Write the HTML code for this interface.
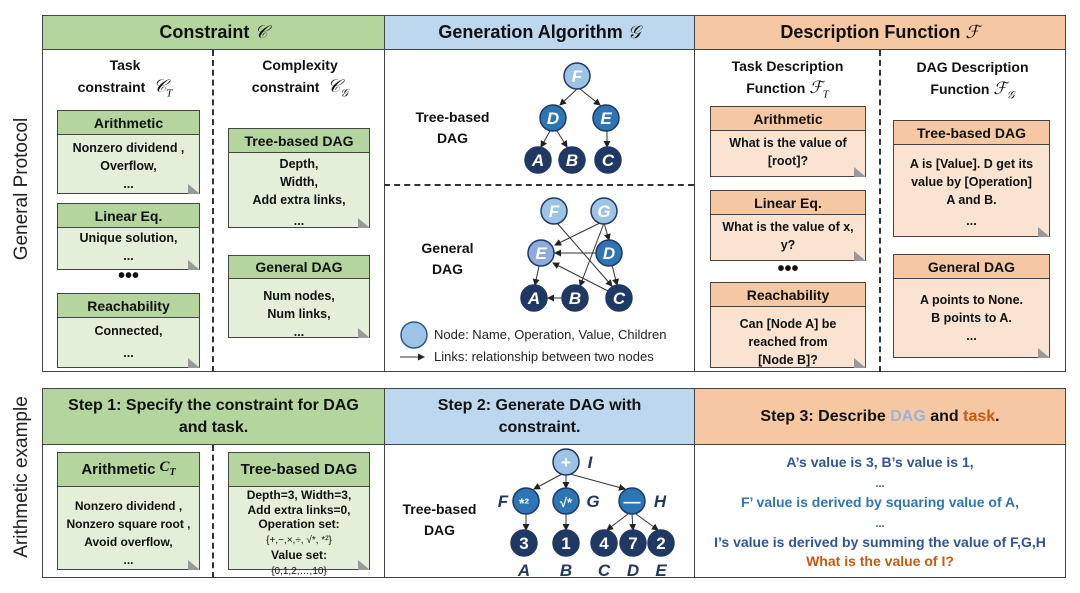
<!DOCTYPE html>
<html><head><meta charset="utf-8"><style>
body{margin:0;width:1080px;height:593px;background:#fff;position:relative;overflow:hidden;font-family:"Liberation Sans",sans-serif;}
.a{position:absolute;box-sizing:border-box;}
.hd{font-weight:bold;text-align:center;color:#111;border:1px solid #444;}
.g{background:#b4d59d}.b{background:#bdd7ee}.o{background:#f6c7a3}
.note{position:absolute;box-sizing:border-box;border:1px solid #444;font-weight:bold;font-size:12.5px;text-align:center;color:#111;line-height:18px;}
.note .h{border-bottom:1px solid #444;font-size:14px;display:flex;align-items:center;justify-content:center;}
.note .c{padding-top:4px}
.gn{background:#e3efd9}.gn .h{background:#b4d59d}
.on{background:#fbe3d2}.on .h{background:#f6c7a3}
.fold{position:absolute;right:-1px;bottom:-1px;width:0;height:0;border-left:12px solid #999;border-top:10px solid transparent;}
.lab{position:absolute;font-weight:bold;font-size:14px;text-align:center;color:#111;line-height:21px;}
.vd{position:absolute;border-left:2px dashed #333;width:0;}
.rot{position:absolute;transform:rotate(-90deg);font-size:19px;color:#222;white-space:nowrap;transform-origin:center;}
.t{position:absolute;font-weight:bold;font-size:14px;text-align:center;left:694px;width:372px;}
</style></head><body>
<div class="rot" style="left:-58px;top:178px;width:160px;text-align:center">General Protocol</div>
<div class="rot" style="left:-68px;top:466px;width:180px;text-align:center">Arithmetic example</div>

<!-- top panel -->
<div class="a" style="left:42px;top:15px;width:1024px;height:357px;border:1px solid #444"></div>
<div class="a hd g" style="left:42px;top:15px;width:343px;height:35px;font-size:18px;line-height:33px">Constraint <i style="font-family:'Liberation Serif',serif;font-weight:normal">𝒞</i></div>
<div class="a hd b" style="left:384px;top:15px;width:311px;height:35px;font-size:18px;line-height:33px">Generation Algorithm <i style="font-family:'Liberation Serif',serif;font-weight:normal">𝒢</i></div>
<div class="a hd o" style="left:694px;top:15px;width:372px;height:35px;font-size:18px;line-height:33px">Description Function <i style="font-family:'Liberation Serif',serif;font-weight:normal">ℱ</i></div>
<div class="a" style="left:384px;top:15px;width:0;height:357px;border-left:1px solid #444"></div>
<div class="a" style="left:694px;top:15px;width:0;height:357px;border-left:1px solid #444"></div>
<div class="vd" style="left:212px;top:50px;height:322px"></div>
<div class="vd" style="left:879px;top:50px;height:322px"></div>

<div class="lab" style="left:60px;top:55px;width:130px">Task<br>constraint &nbsp;<span style="font-family:'Liberation Serif',serif;font-style:italic;font-weight:normal;font-size:18px">𝒞<sub style="font-size:11px">T</sub></span></div>
<div class="lab" style="left:225px;top:55px;width:150px">Complexity<br>constraint &nbsp;<span style="font-family:'Liberation Serif',serif;font-style:italic;font-weight:normal;font-size:18px">𝒞<sub style="font-size:11px">𝒢</sub></span></div>

<div class="note gn" style="left:57px;top:110px;width:143px;height:84px"><div class="h" style="height:23px">Arithmetic</div><div class="c">Nonzero dividend ,<br>Overflow,<br>...</div><div class="fold"></div></div>
<div class="note gn" style="left:57px;top:203px;width:143px;height:67px"><div class="h" style="height:23px">Linear Eq.</div><div class="c" style="padding-top:1px">Unique solution,<br>...</div><div class="fold"></div></div>
<div class="lab" style="left:57px;top:266px;width:143px;font-size:20px">•••</div>
<div class="note gn" style="left:57px;top:293px;width:143px;height:75px"><div class="h" style="height:23px">Reachability</div><div class="c">Connected,<br><span style="line-height:26px">...</span></div><div class="fold"></div></div>
<div class="note gn" style="left:228px;top:128px;width:142px;height:100px"><div class="h" style="height:23px">Tree-based DAG</div><div class="c" style="padding-top:2px">Depth,<br>Width,<br>Add extra links,<br><span style="line-height:24px">...</span></div><div class="fold"></div></div>
<div class="note gn" style="left:228px;top:255px;width:142px;height:83px"><div class="h" style="height:22px">General DAG</div><div class="c" style="padding-top:8px">Num nodes,<br>Num links,<br>...</div><div class="fold"></div></div>

<div class="lab" style="left:700px;top:56px;width:175px">Task Description<br>Function <span style="font-family:'Liberation Serif',serif;font-style:italic;font-weight:normal;font-size:17px">ℱ<sub style="font-size:11px">T</sub></span></div>
<div class="lab" style="left:885px;top:57px;width:175px">DAG Description<br>Function <span style="font-family:'Liberation Serif',serif;font-style:italic;font-weight:normal;font-size:17px">ℱ<sub style="font-size:11px">𝒢</sub></span></div>

<div class="note on" style="left:710px;top:106px;width:156px;height:71px"><div class="h" style="height:23px">Arithmetic</div><div class="c" style="padding-top:3px">What is the value of<br>[root]?</div><div class="fold"></div></div>
<div class="note on" style="left:710px;top:190px;width:156px;height:71px"><div class="h" style="height:23px">Linear Eq.</div><div class="c" style="padding-top:3px">What is the value of x,<br>y?</div><div class="fold"></div></div>
<div class="lab" style="left:710px;top:259px;width:156px;font-size:20px">•••</div>
<div class="note on" style="left:710px;top:282px;width:156px;height:86px"><div class="h" style="height:23px">Reachability</div><div class="c" style="padding-top:8px">Can [Node A] be<br>reached from<br>[Node B]?</div><div class="fold"></div></div>
<div class="note on" style="left:893px;top:120px;width:157px;height:117px"><div class="h" style="height:23px">Tree-based DAG</div><div class="c" style="padding-top:10px">A is [Value]. D get its<br>value by [Operation]<br>A and B.<br><span style="line-height:24px">...</span></div><div class="fold"></div></div>
<div class="note on" style="left:893px;top:254px;width:157px;height:104px"><div class="h" style="height:23px">General DAG</div><div class="c" style="padding-top:12px">A points to None.<br>B points to A.<br>...</div><div class="fold"></div></div>

<div class="lab" style="left:400px;top:107px;width:105px">Tree-based<br>DAG</div>
<div class="lab" style="left:400px;top:238px;width:95px">General<br>DAG</div>
<div class="a" style="left:384px;top:184px;width:310px;border-top:2px dashed #333"></div>
<div class="a" style="left:434px;top:327px;font-size:13px;color:#222">Node: Name, Operation, Value, Children</div>
<div class="a" style="left:434px;top:349px;font-size:13px;color:#222">Links: relationship between two nodes</div>

<svg class="a" style="left:0;top:0" width="1080" height="593">
<defs><marker id="ar" markerWidth="7" markerHeight="7" refX="6" refY="3.5" orient="auto" markerUnits="userSpaceOnUse"><path d="M0,0L7,3.5L0,7z" fill="#222"/></marker></defs>
<g stroke="#333" stroke-width="1" fill="none" marker-end="url(#ar)">
<line x1="577" y1="89" x2="560" y2="105"/><line x1="580" y1="89" x2="600" y2="105"/>
<line x1="550" y1="131" x2="541" y2="147"/><line x1="557" y1="131" x2="567" y2="147"/><line x1="607" y1="131" x2="607" y2="147"/>
<line x1="604" y1="221" x2="555" y2="245"/><line x1="604" y1="223" x2="609" y2="240"/><line x1="604" y1="223" x2="580" y2="286"/><line x1="557" y1="223" x2="612" y2="286"/>
<line x1="596" y1="253" x2="555" y2="253"/><line x1="612" y1="265" x2="617" y2="285"/><line x1="610" y1="292" x2="553" y2="263"/>
<line x1="539" y1="266" x2="535" y2="285"/><line x1="562" y1="298" x2="548" y2="298"/>
<line x1="400" y1="357" x2="424" y2="357"/>
<line x1="562" y1="474" x2="534" y2="489"/><line x1="566" y1="475" x2="566" y2="488"/><line x1="570" y1="474" x2="625" y2="489"/>
<line x1="526" y1="514" x2="526" y2="530"/><line x1="566" y1="514" x2="566" y2="530"/>
<line x1="628" y1="514" x2="607" y2="530"/><line x1="632" y1="514" x2="633" y2="530"/><line x1="636" y1="514" x2="658" y2="530"/>
</g>
<g stroke="#1f3864" stroke-width="1.5" font-family="Liberation Sans" font-weight="bold" font-style="italic" font-size="17" text-anchor="middle">
<circle cx="577" cy="76" r="13" fill="#9dc3e6"/><text x="577" y="82" fill="#fff" stroke="none">F</text>
<circle cx="553" cy="118" r="13" fill="#2e75b6"/><text x="553" y="124" fill="#fff" stroke="none">D</text>
<circle cx="606" cy="118" r="13" fill="#2e75b6"/><text x="606" y="124" fill="#fff" stroke="none">E</text>
<circle cx="538" cy="160" r="13" fill="#1f3864"/><text x="538" y="166" fill="#fff" stroke="none">A</text>
<circle cx="572" cy="160" r="13" fill="#1f3864"/><text x="572" y="166" fill="#fff" stroke="none">B</text>
<circle cx="608" cy="160" r="13" fill="#1f3864"/><text x="608" y="166" fill="#fff" stroke="none">C</text>
<circle cx="554" cy="211" r="13" fill="#9dc3e6"/><text x="554" y="217" fill="#fff" stroke="none">F</text>
<circle cx="604" cy="211" r="13" fill="#9dc3e6"/><text x="604" y="217" fill="#fff" stroke="none">G</text>
<circle cx="541" cy="253" r="13" fill="#8faadc"/><text x="541" y="259" fill="#fff" stroke="none">E</text>
<circle cx="609" cy="253" r="13" fill="#2e75b6"/><text x="609" y="259" fill="#fff" stroke="none">D</text>
<circle cx="534" cy="298" r="13" fill="#1f3864"/><text x="534" y="304" fill="#fff" stroke="none">A</text>
<circle cx="575" cy="298" r="13" fill="#1f3864"/><text x="575" y="304" fill="#fff" stroke="none">B</text>
<circle cx="619" cy="298" r="13" fill="#1f3864"/><text x="619" y="304" fill="#fff" stroke="none">C</text>
<circle cx="414" cy="335" r="13" fill="#9dc3e6" stroke="#2e5a8a"/>
<circle cx="566" cy="462" r="13" fill="#9dc3e6"/><text x="566" y="468" fill="#fff" stroke="none" font-style="normal">+</text>
<circle cx="526" cy="501" r="13" fill="#2e75b6"/><text x="524" y="508" fill="#fff" stroke="none" font-style="normal" font-size="14">*²</text>
<circle cx="566" cy="501" r="13" fill="#2e75b6"/><text x="566" y="507" fill="#fff" stroke="none" font-style="normal" font-size="13">√*</text>
<circle cx="632" cy="501" r="13" fill="#2e75b6"/><text x="632" y="507" fill="#fff" stroke="none" font-style="normal">—</text>
<circle cx="524" cy="543" r="13" fill="#1f3864"/><text x="524" y="549" fill="#fff" stroke="none" font-style="normal">3</text>
<circle cx="566" cy="543" r="13" fill="#1f3864"/><text x="566" y="549" fill="#fff" stroke="none" font-style="normal">1</text>
<circle cx="604" cy="543" r="13" fill="#1f3864"/><text x="604" y="549" fill="#fff" stroke="none" font-style="normal">4</text>
<circle cx="633" cy="543" r="13" fill="#1f3864"/><text x="633" y="549" fill="#fff" stroke="none" font-style="normal">7</text>
<circle cx="661" cy="543" r="13" fill="#1f3864"/><text x="661" y="549" fill="#fff" stroke="none" font-style="normal">2</text>
</g>
<g font-family="Liberation Sans" font-weight="bold" font-style="italic" font-size="17" fill="#1f3864" text-anchor="middle">
<text x="590" y="468">I</text><text x="503" y="507">F</text><text x="593" y="507">G</text><text x="660" y="507">H</text>
<text x="524" y="576">A</text><text x="566" y="576">B</text><text x="604" y="576">C</text><text x="633" y="576">D</text><text x="661" y="576">E</text>
</g>
</svg>

<!-- bottom panel -->
<div class="a" style="left:42px;top:388px;width:1024px;height:190px;border:1px solid #444"></div>
<div class="a hd g" style="left:42px;top:388px;width:343px;height:57px;font-size:16px;line-height:22px;padding-top:6px">Step 1: Specify the constraint for DAG<br>and task.</div>
<div class="a hd b" style="left:384px;top:388px;width:311px;height:57px;font-size:16px;line-height:22px;padding-top:6px">Step 2: Generate DAG with<br>constraint.</div>
<div class="a hd o" style="left:694px;top:388px;width:372px;height:57px;font-size:16px;line-height:55px">Step 3: Describe <span style="color:#9bb3d6">DAG</span> and <span style="color:#c55a11">task</span>.</div>
<div class="a" style="left:384px;top:388px;height:190px;border-left:1px solid #444"></div>
<div class="a" style="left:694px;top:388px;height:190px;border-left:1px solid #444"></div>
<div class="vd" style="left:212px;top:445px;height:133px"></div>

<div class="note gn" style="left:57px;top:452px;width:143px;height:118px"><div class="h" style="height:33px;font-size:15px">Arithmetic <i style="font-family:'Liberation Serif',serif;margin-left:4px">C<sub style="font-size:10px">T</sub></i></div><div class="c" style="padding-top:10px;font-size:12px;line-height:18px">Nonzero dividend ,<br>Nonzero square root ,<br>Avoid overflow,<br>...</div><div class="fold"></div></div>
<div class="note gn" style="left:228px;top:452px;width:142px;height:118px"><div class="h" style="height:33px;font-size:15px">Tree-based DAG</div><div class="c" style="padding-top:1px;font-size:12px;line-height:14.5px">Depth=3, Width=3,<br>Add extra links=0,<br>Operation set:<br><span style="font-weight:normal;font-size:10px">{+,−,×,÷, √*, *²}</span><br>Value set:<br><span style="font-weight:normal;font-size:10px">{0,1,2,…,10}</span></div><div class="fold"></div></div>

<div class="lab" style="left:392px;top:499px;width:95px">Tree-based<br>DAG</div>

<div class="t" style="top:454px;color:#2f5597">A’s value is 3, B’s value is 1,</div>
<div class="t" style="top:478px;color:#2f5597;font-size:11px">...</div>
<div class="t" style="top:494px;color:#2e75b6">F’ value is derived by squaring value of A,</div>
<div class="t" style="top:518px;color:#2f5597;font-size:11px">...</div>
<div class="t" style="top:534px;color:#2f5597">I’s value is derived by summing the value of F,G,H</div>
<div class="t" style="top:553px;color:#c55a11">What is the value of I?</div>
</body></html>
